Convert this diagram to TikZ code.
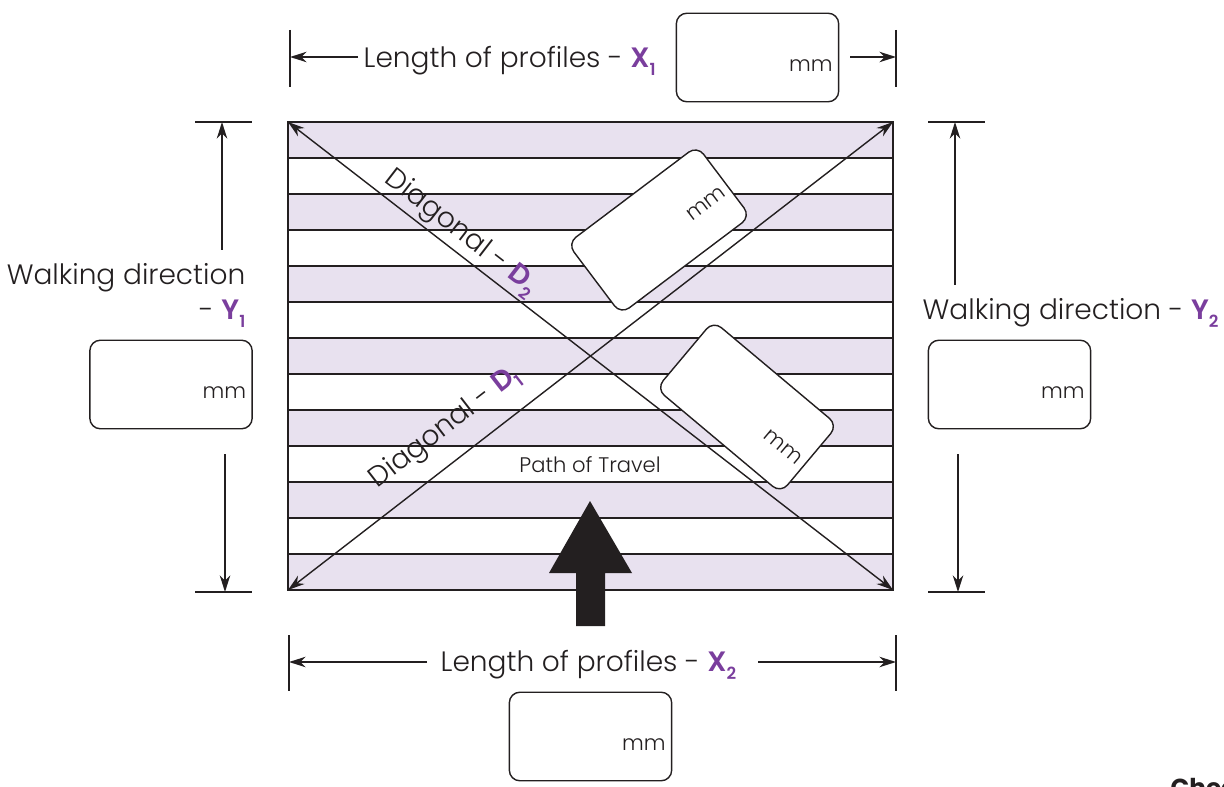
\documentclass[tikz,border=0pt]{standalone}
\usepackage{fontspec}
\setmainfont{Poppins}[UprightFont=* Light,BoldFont=* SemiBold]
\newfontfamily\heavyfont{Poppins}[UprightFont=* Bold]
\usetikzlibrary{arrows.meta}
\definecolor{bandfill}{HTML}{E8E1EF}
\definecolor{markpurple}{HTML}{7A3E9D}
\definecolor{inkblack}{HTML}{231F20}
\newcommand{\dimmark}[2]{\textcolor{markpurple}{\textbf{#1}\raisebox{-0.28em}{\fontsize{9.5}{9.5}\selectfont\textbf{#2}}}}
\begin{document}
\begin{tikzpicture}[x=0.02cm,y=-0.02cm,>={Stealth[length=9.5pt,width=6pt]},thick,color=inkblack,
    valuebox/.style={draw=inkblack,fill=white,rounded corners=6pt,line width=0.8pt,minimum width=92.4pt,minimum height=50.4pt,inner sep=0pt,text width=85.5pt,align=right,font=\fontsize{12.1}{14}\selectfont},
    dimlabel/.style={inner sep=0pt,font=\fontsize{15.95}{20}\selectfont},
    dimline/.style={line width=0.8pt},
    band/.style={fill=bandfill,draw=inkblack,line width=0.8pt}]
    \path[use as bounding box] (0,0) rectangle (1224,787);

    % plan with its bands
    \foreach \y in {122,194,266,338,410,482,554}
        \draw[band] (288,\y) rectangle (893,\y+36);
    \draw[dimline] (288,122) rectangle (893,590);
    \coordinate (pa) at (288,122);
    \coordinate (pb) at (893,122);
    \coordinate (pc) at (893,590);
    \coordinate (pd) at (288,590);
    \draw[dimline,<->] (pa) -- (pc);
    \draw[dimline,<->] (pd) -- (pb);

    % travel arrow
    \fill[inkblack] (590,501) -- (632,573) -- (605,573) -- (605,626) -- (576,626) -- (576,573) -- (549,573) -- cycle;
    \node[inner sep=0pt,font=\fontsize{12}{14}\selectfont] (travel) at (590,465) {Path of Travel};

    % diagonal labels
    \node[dimlabel,rotate=-37.7] (dtwo) at (461,233) {Diagonal - \dimmark{D}{2}};
    \node[dimlabel,rotate=37.7] (done) at (445,428) {Diagonal - \dimmark{D}{1}};

    % value boxes
    \node[valuebox] (xone) at (757.5,57.5) {\raisebox{-15.5pt}{mm}};
    \node[valuebox] (xtwo) at (590.5,736.5) {\raisebox{-15.5pt}{mm}};
    \node[valuebox] (yone) at (171,384.5) {\raisebox{-15.5pt}{mm}};
    \node[valuebox] (ytwo) at (1009.5,384.5) {\raisebox{-15.5pt}{mm}};
    \node[valuebox,rotate=37] (dboxtwo) at (659,230) {\raisebox{-15.5pt}{mm}};
    \node[valuebox,rotate=-40] (dboxone) at (747,407) {\raisebox{-15.5pt}{mm}};

    % dimension labels
    \node[dimlabel,anchor=west] (xonelabel) at (363,61) {Length of profiles - \dimmark{X}{1}};
    \node[dimlabel,anchor=west] (xtwolabel) at (440,665) {Length of profiles - \dimmark{X}{2}};
    \node[dimlabel,align=right,anchor=north east] (yonelabel) at (246,263) {Walking direction\\- \dimmark{Y}{1}};
    \node[dimlabel,anchor=west] (ytwolabel) at (922,313) {Walking direction - \dimmark{Y}{2}};
    \node[anchor=base west,inner sep=0pt,font=\fontsize{14}{16}\selectfont\heavyfont] (check) at (1170,796) {Check};

    % ticks
    \coordinate (xa) at (290,57);
    \coordinate (xb) at (896,57);
    \coordinate (xc) at (289,662);
    \coordinate (xd) at (896,662);
    \coordinate (ya) at (222,122);
    \coordinate (yb) at (225,592);
    \coordinate (yc) at (955,122);
    \coordinate (yd) at (958,592);
    \draw[dimline] (290,30) -- (290,87) (896,30) -- (896,87);
    \draw[dimline] (289,635) -- (289,691) (896,635) -- (896,691);
    \draw[dimline] (195,122) -- (252,122) (195,592) -- (252,592);
    \draw[dimline] (928,122) -- (985,122) (928,592) -- (985,592);

    \draw[dimline,->] (358,57) -- (xa);
    \draw[dimline,->] (850,57) -- (xb);
    \draw[dimline,->] (427,662) -- (xc);
    \draw[dimline,->] (758,662) -- (xd);
    \draw[dimline,->] (222,250) -- (ya);
    \draw[dimline,->] (225,454) -- (yb);
    \draw[dimline,->] (955,285) -- (yc);
    \draw[dimline,->] (958,454) -- (yd);
\end{tikzpicture}
\end{document}
